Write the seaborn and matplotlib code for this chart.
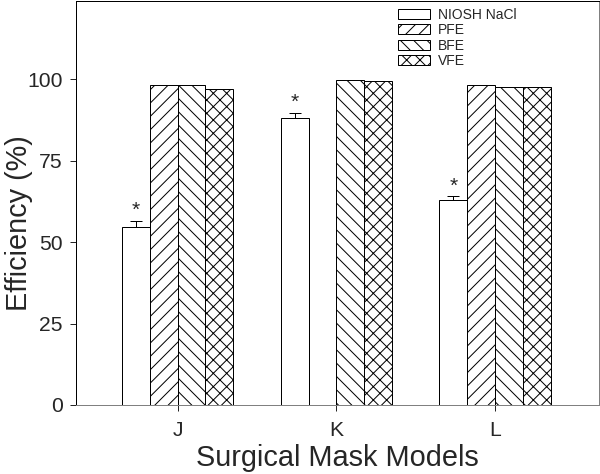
import numpy as np
import pandas as pd
import matplotlib.pyplot as plt
import seaborn as sns

# Data
models = ['J', 'K', 'L']
tests = ['NIOSH NaCl', 'PFE', 'BFE', 'VFE']
niosh = [54.7, 88.2, 62.9]
niosh_err = [1.9, 1.5, 1.1]
pfe = [98.2, np.nan, 98.3]
bfe = [98.2, 99.6, 97.6]
vfe = [97.0, 99.5, 97.5]
hatches = ['', '//', '\\\\', 'xx']

sns.set_style("ticks")
plt.rcParams['font.family'] = ['Liberation Sans', 'DejaVu Sans']
plt.rcParams['hatch.linewidth'] = 0.9

df = pd.DataFrame({
    'model': models * 4,
    'test': [t for t in tests for _ in models],
    'value': niosh + pfe + bfe + vfe,
})

dpi = 80
fig = plt.figure(figsize=(600 / dpi, 474 / dpi), dpi=dpi)
ax = fig.add_axes([76 / 600, 1 - 405 / 474, 523 / 600, 404 / 474])

sns.barplot(data=df, x='model', y='value', hue='test', hue_order=tests,
            order=models, palette=['white'] * 4, edgecolor='black',
            linewidth=0.9, width=0.7, errorbar=None, ax=ax)

for cont, h in zip(ax.containers, hatches):
    for bar in cont:
        bar.set_hatch(h)
        bar.set_edgecolor('black')

# error bars (upper only) and stars on the NIOSH bars
for bar, v, e in zip(ax.containers[0], niosh, niosh_err):
    xc = bar.get_x() + bar.get_width() / 2
    ax.errorbar(xc, v, yerr=[[0], [e]], fmt='none', ecolor='black',
                elinewidth=0.9, capsize=5, capthick=0.9)
    ax.text(xc, v + e + 0.3, '*', ha='center', va='bottom', fontsize=19)

ax.set_ylim(0, 124)
ax.set_xlim(-0.64, 2.655)
ax.set_yticks([0, 25, 50, 75, 100])
ax.tick_params(axis='both', labelsize=19, length=5, width=0.9, direction='out')
ax.tick_params(axis='y', pad=7)
ax.tick_params(axis='x', pad=9)
ax.set_ylabel('Efficiency (%)', fontsize=26)
ax.set_xlabel('Surgical Mask Models', fontsize=26, labelpad=4)
ax.yaxis.set_label_coords(-0.083, 0.45)

for s in ax.spines.values():
    s.set_visible(True)
    s.set_linewidth(0.9)
    s.set_color('black')
ax.spines['bottom'].set_color('#808080')
ax.spines['right'].set_color('#808080')

ax.legend(handles=ax.containers, labels=tests, loc='upper left',
          bbox_to_anchor=(0.615, 0.983), frameon=False,
          fontsize=12.5, handlelength=2.3, handleheight=0.75,
          handletextpad=0.6, labelspacing=0.1, borderaxespad=0, borderpad=0)

fig.savefig('out.png', dpi=dpi)
